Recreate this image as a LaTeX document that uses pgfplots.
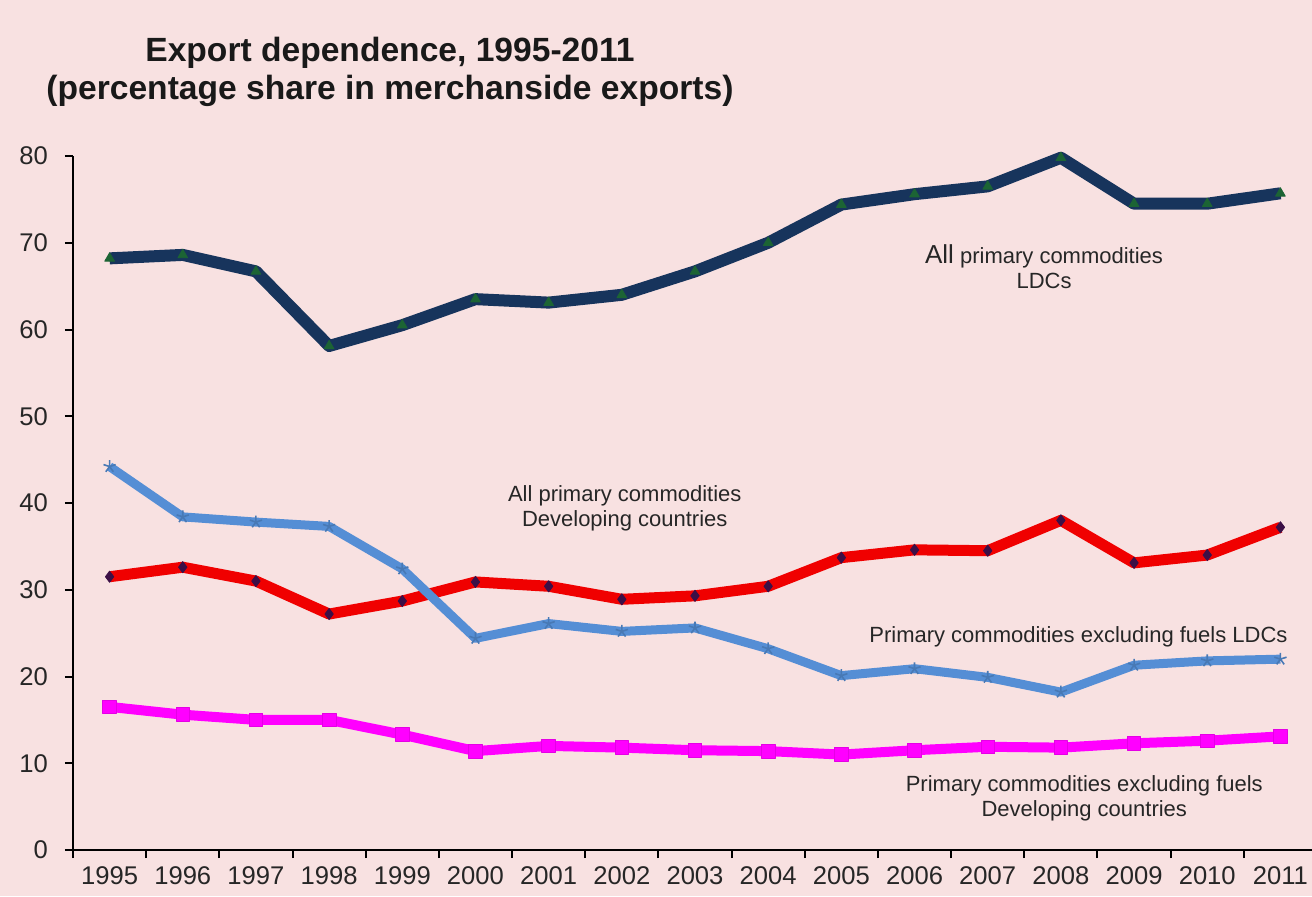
\documentclass[border=0pt]{standalone}
\usepackage{fontspec}
\setmainfont{Liberation Sans}
\usepackage{pgfplots}
\pgfplotsset{compat=1.18}
\definecolor{bg}{RGB}{248,225,225}
\definecolor{navy}{RGB}{23,52,92}
\definecolor{ltblue}{RGB}{85,142,213}
\definecolor{mkgreen}{RGB}{28,100,52}
\definecolor{mkpurple}{RGB}{60,15,70}
\definecolor{redline}{RGB}{240,0,0}
\definecolor{magline}{RGB}{255,0,255}
\begin{document}
\begin{tikzpicture}[x=1pt,y=1pt]
\fill[bg] (0,0) rectangle (656,448);
\useasboundingbox (0,0) rectangle (656,448);
\node[font=\fontsize{16.8}{19}\selectfont\bfseries, align=center, text=black!90] at (195,412) {Export dependence, 1995-2011\\(percentage share in merchanside exports)};
\begin{axis}[
  at={(36.5pt,23pt)}, anchor=south west,
  scale only axis, width=622pt, height=347pt,
  xmin=-0.5, xmax=16.5, ymin=0, ymax=80,
  axis lines=left, axis line style={-, line width=1pt, black},
  ytick={0,10,...,80},
  xtick={0,...,16},
  xticklabels={1995,1996,1997,1998,1999,2000,2001,2002,2003,2004,2005,2006,2007,2008,2009,2010,2011},
  minor xtick={-0.5,0.5,...,16.5},
  major x tick style={draw=none},
  tick align=outside, major tick length=4pt, minor tick length=4pt,
  tick style={black, line width=1pt},
  ticklabel style={font=\fontsize{12.8}{15}\selectfont, text=black!85},
  yticklabel style={xshift=-5pt},
  xticklabel style={yshift=-1pt},
  /pgf/number format/assume math mode=true,
  clip=false,
]
\addplot[navy, line width=6pt, line join=round, mark=triangle*, mark size=2.8pt, mark options={fill=mkgreen, draw=mkgreen, line width=0.4pt}] coordinates {
(0,68.2)(1,68.6)(2,66.7)(3,58.1)(4,60.5)(5,63.5)(6,63.1)(7,64.0)(8,66.7)(9,70.0)(10,74.4)(11,75.6)(12,76.5)(13,79.8)(14,74.5)(15,74.5)(16,75.7)};
\addplot[redline, line width=5.5pt, line join=round, mark=diamond*, mark size=2.8pt, mark options={fill=mkpurple, draw=mkpurple, line width=0.4pt}] coordinates {
(0,31.5)(1,32.6)(2,31.0)(3,27.2)(4,28.7)(5,30.9)(6,30.4)(7,28.9)(8,29.3)(9,30.4)(10,33.7)(11,34.6)(12,34.5)(13,38.0)(14,33.1)(15,34.0)(16,37.2)};
\addplot[ltblue, line width=4.5pt, line join=round, mark=star, mark size=3.2pt, mark options={draw=ltblue!85!black, line width=0.8pt}] coordinates {
(0,44.2)(1,38.4)(2,37.8)(3,37.3)(4,32.4)(5,24.4)(6,26.1)(7,25.2)(8,25.6)(9,23.2)(10,20.1)(11,20.9)(12,19.9)(13,18.2)(14,21.3)(15,21.8)(16,22.0)};
\addplot[magline, line width=5pt, line join=round, mark=square*, mark size=3.4pt, mark options={fill=magline, draw=magline!90!black, line width=0.4pt}] coordinates {
(0,16.5)(1,15.6)(2,15.0)(3,15.0)(4,13.3)(5,11.4)(6,12.0)(7,11.8)(8,11.5)(9,11.4)(10,11.0)(11,11.5)(12,11.9)(13,11.8)(14,12.3)(15,12.6)(16,13.1)};
\node[align=center, font=\fontsize{11}{12.5}\selectfont, text=black!85] at (axis cs:12.77,67.2) {{\fontsize{13}{12.5}\selectfont All} primary commodities\\LDCs};
\node[align=center, font=\fontsize{11}{12.5}\selectfont, text=black!85] at (axis cs:7.04,39.4) {All primary commodities\\Developing countries};
\node[align=center, font=\fontsize{11}{12.5}\selectfont, text=black!85] at (axis cs:13.24,24.6) {Primary commodities excluding fuels LDCs};
\node[align=center, font=\fontsize{11}{12.5}\selectfont, text=black!85] at (axis cs:13.32,6.0) {Primary commodities excluding fuels\\Developing countries};
\end{axis}
\end{tikzpicture}
\end{document}
